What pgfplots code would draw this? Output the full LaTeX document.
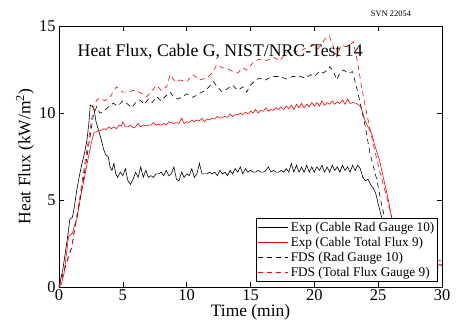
\documentclass[border=0pt]{standalone}
\usepackage{pgfplots}
\pgfplotsset{compat=1.18}
\usepackage{fontspec}
\setmainfont{Liberation Serif}
\usetikzlibrary{calc}
\definecolor{mred}{RGB}{255,0,0}
\begin{document}
\begin{tikzpicture}
\begin{axis}[
  scale only axis, width=383bp, height=261bp,
  xmin=0, xmax=30, ymin=0, ymax=15,
  xtick={0,5,...,30}, ytick={0,5,10,15},
  tick align=inside, major tick length=5bp,
  axis line style={line width=0.8bp},
  every tick/.style={black, line width=0.5bp},
  /pgf/number format/assume math mode=true,
  tick label style={font=\fontsize{16.5}{19}\selectfont},
  xticklabel style={yshift=1bp},
  xlabel={Time (min)}, ylabel={Heat Flux (kW/m\textsuperscript{2})},
  label style={font=\fontsize{17.5}{19}\selectfont},
  xlabel style={yshift=3bp},
  ylabel style={yshift=-2bp},
  clip=false,
  legend cell align=left,
  legend style={at={(rel axis cs:0.99,0.02)}, anchor=south east, draw=black, line width=0.8bp,
    font=\fontsize{13.3}{14}\selectfont, inner sep=1.5bp, row sep=0.3bp},
  legend image code/.code={\draw[#1, line width=0.6bp] (0bp,0bp) -- (30bp,0bp);},
]
\addplot[black, line width=0.6bp] coordinates {
(0,0) (0.3,1.0) (0.5,2.0) (0.7,3.0) (0.85,3.9) (1.05,4.0) (1.2,4.6) (1.4,5.6) (1.6,6.4) (1.8,7.1) (2.0,7.7) (2.2,8.5) (2.35,9.5) (2.45,10.45) (2.6,10.4) (2.75,10.2) (2.9,9.5) (3.1,9.0) (3.3,8.5) (3.5,7.9) (3.65,7.6) (3.85,7.5) (4.0,6.9) (4.15,6.7) (4.3,7.1) (4.45,6.5) (4.6,6.3) (4.8,6.6) (5.0,6.4) (5.2,6.8) (5.4,6.1) (5.6,5.9) (5.8,6.2) (6.0,6.6) (6.2,6.3) (6.4,6.9) (6.6,6.3) (6.8,6.7) (7.0,6.3) (7.2,6.4) (7.4,6.3) (7.6,6.5) (7.8,6.5) (8.0,6.6) (8.2,6.4) (8.4,6.7) (8.6,6.4) (8.8,6.5) (9.0,6.9) (9.2,6.2) (9.4,6.1) (9.6,6.6) (9.8,6.3) (10.0,6.5) (10.2,6.4) (10.4,6.8) (10.6,6.3) (10.8,6.5) (11.0,7.1) (11.2,6.5) (11.4,6.5) (11.6,6.5) (11.8,6.6) (12.0,6.5) (12.2,6.6) (12.4,6.4) (12.6,6.7) (12.8,6.5) (13.0,6.6) (13.2,6.4) (13.4,6.7) (13.6,6.5) (13.8,6.8) (14.0,6.6) (14.2,6.9) (14.4,6.5) (14.6,6.8) (14.8,6.6) (15.0,6.7) (15.2,6.6) (15.4,6.6) (15.6,6.7) (15.8,6.6) (16.0,6.6) (16.2,6.7) (16.4,6.9) (16.6,6.6) (16.8,6.7) (17.0,6.6) (17.2,6.6) (17.4,6.7) (17.6,6.6) (17.8,6.8) (18.0,6.6) (18.2,7.1) (18.4,6.6) (18.6,7.0) (18.8,6.6) (19.0,6.9) (19.2,6.6) (19.4,7.0) (19.6,6.6) (19.8,6.9) (20.0,6.6) (20.2,6.9) (20.4,6.7) (20.6,7.0) (20.8,6.6) (21.0,6.9) (21.2,6.6) (21.4,7.0) (21.6,6.7) (21.8,6.9) (22.0,6.6) (22.2,7.0) (22.4,6.7) (22.6,6.9) (22.8,6.6) (23.0,7.0) (23.2,6.7) (23.4,7.0) (23.6,6.8) (23.8,6.3) (24.0,6.1) (24.2,6.2) (24.4,5.9) (24.6,5.7) (24.8,5.4) (25.0,4.8) (25.2,4.2) (25.4,3.7) (25.6,3.0) (25.8,2.5) (26.0,2.1) (26.5,1.7) (27,1.5) (28,1.4) (29,1.3) (30,1.25)
};
\addlegendentry{Exp (Cable Rad Gauge 10)}
\addplot[mred, line width=0.6bp] coordinates {
(0,0) (0.2,0.2) (0.4,0.8) (0.6,2.0) (0.75,2.9) (0.9,3.0) (1.05,3.1) (1.2,3.5) (1.4,3.9) (1.6,4.8) (1.8,5.6) (2.0,6.3) (2.2,7.1) (2.4,7.8) (2.6,8.5) (2.75,8.9) (2.9,8.9) (3.1,9.0) (3.3,9.0) (3.5,9.1) (3.7,9.05) (3.9,9.2) (4.1,9.1) (4.3,9.2) (4.5,9.1) (4.7,9.3) (4.9,9.25) (5.0,9.5) (5.2,9.2) (5.4,9.2) (5.6,9.3) (5.8,9.15) (6.0,9.2) (6.2,9.4) (6.4,9.2) (6.6,9.3) (6.8,9.25) (7.0,9.3) (7.2,9.3) (7.4,9.45) (7.6,9.3) (7.8,9.35) (8.0,9.3) (8.2,9.4) (8.4,9.3) (8.6,9.5) (8.8,9.45) (9.0,9.4) (9.2,9.45) (9.4,9.4) (9.6,9.7) (9.8,9.4) (10.0,9.5) (10.2,9.45) (10.4,9.6) (10.6,9.5) (10.8,9.6) (11.0,9.55) (11.2,9.7) (11.4,9.5) (11.6,9.65) (11.8,9.6) (12.0,9.7) (12.2,9.65) (12.4,9.8) (12.6,9.7) (12.8,9.75) (13.0,9.8) (13.2,9.75) (13.4,9.95) (13.6,9.8) (13.8,9.9) (14.0,9.9) (14.2,10.0) (14.4,9.9) (14.6,10.05) (14.8,9.95) (15.0,10.1) (15.2,10.0) (15.4,10.2) (15.6,10.0) (15.8,10.15) (16.0,10.1) (16.2,10.3) (16.4,10.1) (16.6,10.2) (16.8,10.15) (17.0,10.3) (17.2,10.2) (17.4,10.35) (17.6,10.2) (17.8,10.4) (18.0,10.25) (18.2,10.45) (18.4,10.2) (18.6,10.5) (18.8,10.3) (19.0,10.55) (19.2,10.3) (19.4,10.5) (19.6,10.35) (19.8,10.6) (20.0,10.4) (20.2,10.6) (20.4,10.4) (20.6,10.7) (20.8,10.45) (21.0,10.6) (21.2,10.5) (21.4,10.7) (21.6,10.5) (21.8,10.65) (22.0,10.55) (22.2,10.75) (22.4,10.5) (22.6,10.8) (22.8,10.55) (23.0,10.6) (23.3,10.55) (23.6,10.4) (23.8,10.0) (24.0,9.5) (24.2,9.2) (24.5,8.8) (24.75,8.1) (25.1,7.3) (25.4,6.3) (25.8,5.0) (26.05,4.0) (26.3,3.0) (26.6,2.2) (27,1.8) (28,1.6) (30,1.5)
};
\addlegendentry{Exp (Cable Total Flux 9)}
\addplot[black, line width=0.6bp, dash pattern=on 5bp off 4bp] coordinates {
(0,0) (0.6,1.4) (1.0,2.3) (1.25,3.4) (1.6,4.8) (2.0,6.6) (2.4,8.5) (2.7,9.9) (2.95,10.36) (3.2,10.0) (3.47,10.07) (3.8,10.3) (4.25,10.56) (4.6,10.4) (5.0,10.7) (5.3,10.56) (5.7,10.3) (6.0,10.6) (6.34,10.75) (6.7,10.5) (7.0,10.8) (7.3,10.6) (7.65,10.94) (8.0,10.7) (8.4,11.0) (8.7,11.2) (9.0,10.9) (9.3,10.8) (9.7,10.94) (10.0,11.1) (10.5,10.9) (11.0,11.13) (11.5,11.3) (12.1,11.8) (12.4,11.5) (12.8,11.2) (13.2,11.4) (13.6,11.6) (14.0,11.3) (14.4,11.5) (14.7,11.2) (15.0,11.6) (15.4,11.9) (15.7,12.0) (16.2,11.9) (16.7,12.1) (17.3,12.1) (17.8,11.95) (18.3,12.1) (18.9,12.1) (19.3,12.0) (19.7,12.2) (20.0,12.1) (20.4,12.4) (20.7,12.3) (21.0,12.47) (21.2,12.66) (21.5,12.4) (21.75,11.9) (22.0,12.3) (22.3,12.47) (22.6,12.3) (23.0,12.37) (23.3,11.5) (23.6,10.56) (24.0,9.2) (24.35,7.7) (24.9,6.15) (25.3,4.6) (25.7,3.5) (26.0,2.5) (26.5,1.7) (27,1.3) (28,1.2) (30,1.1)
};
\addlegendentry{FDS (Rad Gauge 10)}
\addplot[mred, line width=0.6bp, dash pattern=on 5bp off 4bp] coordinates {
(0,0) (0.6,1.45) (1.0,2.3) (1.25,3.47) (1.6,5.0) (2.0,7.0) (2.4,8.9) (2.7,10.3) (2.95,10.75) (3.2,10.85) (3.6,10.7) (4.0,10.94) (4.5,11.5) (5.0,11.2) (5.4,11.2) (5.8,11.3) (6.3,11.2) (6.87,10.94) (7.3,11.3) (7.65,11.6) (8.0,11.3) (8.43,11.5) (8.7,12.2) (9.1,11.8) (9.5,11.9) (10.0,11.8) (10.5,12.2) (11.0,11.9) (11.57,12.0) (12.0,12.3) (12.35,12.76) (12.8,12.6) (13.1,12.57) (13.6,12.4) (14.0,12.3) (14.4,12.6) (14.7,12.47) (15.2,12.9) (15.7,13.1) (16.2,13.0) (16.8,13.2) (17.3,13.0) (17.7,13.4) (18.1,13.7) (18.6,13.5) (19.0,13.6) (19.5,13.8) (19.9,13.9) (20.3,13.7) (20.7,14.1) (21.0,14.4) (21.2,14.38) (21.5,13.8) (21.75,13.24) (22.1,13.9) (22.5,13.8) (22.8,13.9) (23.05,14.1) (23.4,12.86) (23.7,11.5) (24.1,9.98) (24.6,8.26) (25.1,6.72) (25.66,5.19) (26.05,4.04) (26.4,3.0) (26.8,2.0) (27.2,1.6) (28,1.4) (30,1.3)
};
\addlegendentry{FDS (Total Flux Gauge 9)}
\node[anchor=west, font=\fontsize{17.8}{19}\selectfont, inner sep=0pt] at (axis cs:1.45,13.5) {Heat Flux, Cable G, NIST/NRC-Test 14};
\node[font=\fontsize{8.5}{9}\selectfont, inner sep=0pt] at (axis cs:26.0,15.7) {SVN 22054};
\end{axis}
\pgfresetboundingbox
\useasboundingbox ($(current axis.south west)+(-59bp,-44bp)$) rectangle ($(current axis.north east)+(16bp,26bp)$);
\end{tikzpicture}
\end{document}
